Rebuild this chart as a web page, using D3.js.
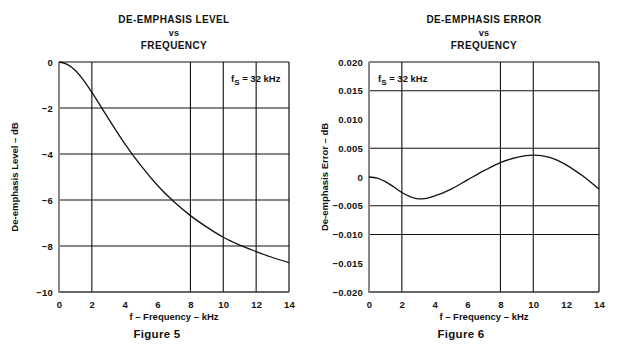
<!DOCTYPE html>
<html>
<head>
<meta charset="utf-8">
<script src="https://cdn.jsdelivr.net/npm/d3@7"></script>
<style>
  body { margin: 0; background: #fff; }
  svg text { font-family: "Liberation Sans", Arial, sans-serif; font-weight: bold; fill: #111; }
  .tick-label { font-size: 9.5px; letter-spacing: 0.2px; }
  .title { font-size: 10px; letter-spacing: 0.4px; }
</style>
</head>
<body>
<svg id="chart" width="620" height="353"></svg>
<script>
// values
const freqKHz = [0, 0.5, 1, 1.5, 2, 3, 4, 5, 6, 7, 8, 9, 10, 11, 12, 13, 14];
const levelDb = [0, -0.1, -0.37, -0.8, -1.32, -2.45, -3.55, -4.52, -5.37, -6.08, -6.68, -7.18, -7.62, -7.96, -8.24, -8.5, -8.72];
const errFreqKHz = [0, 0.5, 1, 1.5, 2, 2.5, 3, 3.5, 4, 5, 6, 7, 8, 9, 10, 11, 12, 12.5, 13, 13.5, 14];
const errorDb = [0, -0.0002, -0.0008, -0.0017, -0.0027, -0.0034, -0.0038, -0.0037, -0.0033, -0.0021, -0.0005, 0.0011, 0.0025, 0.0034, 0.0038, 0.0034, 0.0021, 0.0012, 0.0002, -0.0009, -0.0021];

const freqTicks = [0, 2, 4, 6, 8, 10, 12, 14];
const levelTicks = [0, -2, -4, -6, -8, -10];
const errorTicks = [0.020, 0.015, 0.010, 0.005, 0, -0.005, -0.010, -0.015, -0.020];

// only some grid lines are drawn in the original
const levelGridX = [2, 8, 10, 12];
const levelGridY = [-2, -4, -6, -8];
const errorGridX = [2, 8, 10];
const errorGridY = [0.015, 0.005, -0.005, -0.010];

const svg = d3.select("#chart");

function drawPanel(opt) {
    const w = 230, h = 230;
    const g = svg.append("g").attr("transform", `translate(${opt.left},62)`);

    const x = d3.scaleLinear().domain([0, 14]).range([0, w]);
    const y = d3.scaleLinear().domain(opt.yDomain).range([h, 0]);

    // titles
    const cx = opt.left + w / 2;
    svg.append("text").attr("class", "title").attr("x", cx).attr("y", 23)
        .attr("text-anchor", "middle").text(opt.title);
    svg.append("text").attr("x", cx).attr("y", 36).attr("text-anchor", "middle")
        .style("font-size", "9px").style("letter-spacing", "0.3px").text("vs");
    svg.append("text").attr("class", "title").attr("x", cx).attr("y", 49)
        .attr("text-anchor", "middle").text("FREQUENCY");

    // grid
    g.selectAll(".gx").data(opt.gridX).join("line")
        .attr("x1", d => x(d)).attr("x2", d => x(d))
        .attr("y1", 0).attr("y2", h)
        .attr("stroke", "#111").attr("stroke-width", 1.1);
    g.selectAll(".gy").data(opt.gridY).join("line")
        .attr("y1", d => y(d)).attr("y2", d => y(d))
        .attr("x1", 0).attr("x2", w)
        .attr("stroke", "#111").attr("stroke-width", 1.1);

    // frame
    g.append("line").attr("x1", 0).attr("x2", w).attr("y1", 0).attr("y2", 0)
        .attr("stroke", "#111").attr("stroke-width", 1.2);
    g.append("line").attr("x1", w).attr("x2", w).attr("y1", 0).attr("y2", h)
        .attr("stroke", "#111").attr("stroke-width", 1.2);
    g.append("line").attr("x1", 0).attr("x2", w).attr("y1", h).attr("y2", h)
        .attr("stroke", "#333").attr("stroke-width", 1.4);
    g.append("line").attr("x1", 0).attr("x2", 0).attr("y1", 0).attr("y2", h + 1)
        .attr("stroke", "#888").attr("stroke-width", 2);

    // axes (labels only)
    const xAxis = g.append("g").attr("transform", `translate(0,${h})`)
        .call(d3.axisBottom(x).tickValues(freqTicks).tickSize(0).tickPadding(9).tickFormat(d3.format("d")));
    const yAxis = g.append("g")
        .call(d3.axisLeft(y).tickValues(opt.yTicks).tickSize(0).tickPadding(6).tickFormat(opt.fmt));
    [xAxis, yAxis].forEach(a => {
        a.select(".domain").remove();
        a.selectAll("text").attr("class", "tick-label").attr("fill", "#111");
    });

    // curve
    const line = d3.line()
        .x((d, i) => x(opt.xs[i]))
        .y(d => y(d))
        .curve(d3.curveMonotoneX);
    g.append("path").datum(opt.ys)
        .attr("d", line)
        .attr("fill", "none")
        .attr("stroke", "#111")
        .attr("stroke-width", 1.3);

    // fs annotation
    const ann = g.append("text").attr("x", opt.annX).attr("y", 20).style("font-size", "9.5px");
    ann.append("tspan").text("f");
    ann.append("tspan").attr("dy", 2.5).style("font-size", "8px").text("S");
    ann.append("tspan").attr("dy", -2.5).text(" = 32 kHz");

    // axis titles
    svg.append("text").attr("x", cx).attr("y", 320).attr("text-anchor", "middle")
        .style("font-size", "9.5px").text("f – Frequency – kHz");
    svg.append("text")
        .attr("transform", `translate(${opt.left - 41},${62 + h / 2}) rotate(-90)`)
        .attr("text-anchor", "middle").style("font-size", "9.5px")
        .text(opt.yLabel);
    svg.append("text").attr("x", opt.figX).attr("y", 338).attr("text-anchor", "middle")
        .style("font-size", "11.5px").style("letter-spacing", "0.3px").text(opt.figure);
}

drawPanel({
    left: 59,
    title: "DE-EMPHASIS LEVEL",
    yDomain: [-10, 0],
    yTicks: levelTicks,
    fmt: d3.format("d"),
    gridX: levelGridX,
    gridY: levelGridY,
    xs: freqKHz,
    ys: levelDb,
    annX: 172,
    yLabel: "De-emphasis Level – dB",
    figure: "Figure 5",
    figX: 157
});

drawPanel({
    left: 369,
    title: "DE-EMPHASIS ERROR",
    yDomain: [-0.02, 0.02],
    yTicks: errorTicks,
    fmt: d => d === 0 ? "0" : d3.format(".3f")(d),
    gridX: errorGridX,
    gridY: errorGridY,
    xs: errFreqKHz,
    ys: errorDb,
    annX: 9,
    yLabel: "De-emphasis Error – dB",
    figure: "Figure 6",
    figX: 461
});
</script>
</body>
</html>
